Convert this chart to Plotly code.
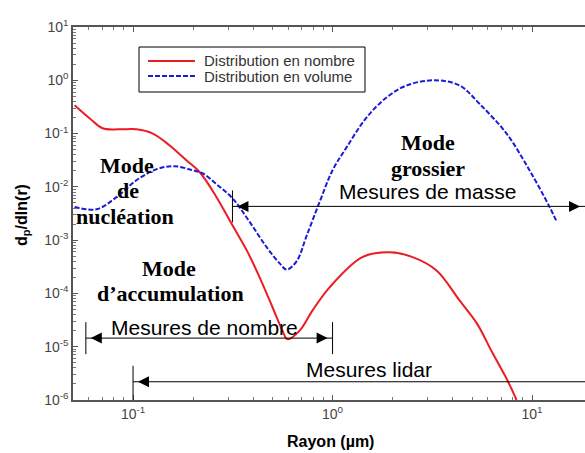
import numpy as np
import plotly.graph_objects as go

# ---- data ----
r_nombre = [0.0509, 0.0605, 0.0703, 0.0856, 0.104, 0.125, 0.152, 0.185, 0.216, 0.262,
            0.315, 0.371, 0.431, 0.50, 0.561, 0.595, 0.684, 0.794, 0.966, 1.41,
            1.93, 2.52, 3.32, 4.33, 5.27, 6.34, 7.54, 8.36]
d_nombre = [0.34, 0.194, 0.126, 0.12, 0.12, 0.101, 0.0605, 0.0316, 0.0188, 6.4e-3,
            1.9e-3, 6.5e-4, 2.0e-4, 5.5e-5, 2.0e-5, 1.38e-5, 2.0e-5, 4.8e-5, 1.3e-4, 4.8e-4,
            5.9e-4, 4.8e-4, 2.7e-4, 7.4e-5, 2.8e-5, 7.6e-6, 2.3e-6, 1.0e-6]

r_volume = [0.0509, 0.0656, 0.0826, 0.104, 0.131, 0.161, 0.199, 0.223, 0.262, 0.315,
            0.384, 0.467, 0.542, 0.588, 0.66, 0.741, 0.861, 1.0, 1.175, 1.48,
            1.87, 2.35, 3.25, 4.33, 5.46, 7.45, 9.71, 12.2, 13.3]
d_volume = [4.2e-3, 3.8e-3, 6.4e-3, 0.0133, 0.0214, 0.0244, 0.0205, 0.018, 0.0112, 6.1e-3,
            2.2e-3, 7.4e-4, 3.7e-4, 2.8e-4, 4.0e-4, 1.2e-3, 5.2e-3, 0.0205, 0.055, 0.2,
            0.48, 0.8, 1.0, 0.8, 0.36, 0.1, 0.0205, 4.3e-3, 2.2e-3]

series_names = ["Distribution en nombre", "Distribution en volume"]
series_colors = ["#ec1c24", "#1c1cd6"]
series_dash = ["solid", "5px,2px"]

mesure_labels = ["Mesures de nombre", "Mesures de masse", "Mesures lidar"]
mesure_start = [0.058, 0.315, 0.1]
mesure_end = [1.0, 18.43, 18.43]
mesure_level = [1.45e-5, 4.3e-3, 2.2e-6]
mesure_head_right = [True, True, False]

x_tickvals = [0.1, 1, 10]
x_ticktext = ["10<sup>-1</sup>", "10<sup>0</sup>", "10<sup>1</sup>"]
y_tickvals = [1e-6, 1e-5, 1e-4, 1e-3, 1e-2, 1e-1, 1, 10]
y_ticktext = ["10<sup>-6</sup>", "10<sup>-5</sup>", "10<sup>-4</sup>", "10<sup>-3</sup>",
              "10<sup>-2</sup>", "10<sup>-1</sup>", "10<sup>0</sup>", "10<sup>1</sup>"]

X_RANGE = [np.log10(0.05), 1.2654]
Y_RANGE = [-6, 1]

W, H = 585, 453
ML, MR, MT, MB = 73, 0, 27, 53
PW, PH = W - ML - MR, H - MT - MB
DEC_PX = PW / (X_RANGE[1] - X_RANGE[0])


def fx(r):
    return (np.log10(r) - X_RANGE[0]) / (X_RANGE[1] - X_RANGE[0])


def fy(v):
    return (np.log10(v) - Y_RANGE[0]) / (Y_RANGE[1] - Y_RANGE[0])


def pxx(p):
    return (p - ML) / PW


def pxy(p):
    return (MT + PH - p) / PH


fig = go.Figure()
fig.add_trace(go.Scatter(x=r_nombre, y=d_nombre, mode="lines", name=series_names[0], showlegend=False,
                         line=dict(color=series_colors[0], width=2, dash=series_dash[0],
                                   shape="spline", smoothing=1)))
fig.add_trace(go.Scatter(x=r_volume, y=d_volume, mode="lines", name=series_names[1], showlegend=False,
                         line=dict(color=series_colors[1], width=2, dash=series_dash[1],
                                   shape="spline", smoothing=1)))

# measurement range arrows
HEAD = 11
shift = 10 ** (HEAD * 0.45 / DEC_PX)
shapes = []
for s, e, lv, hr in zip(mesure_start, mesure_end, mesure_level, mesure_head_right):
    fig.add_trace(go.Scatter(x=[s, e], y=[lv, lv], mode="lines", showlegend=False, hoverinfo="skip",
                             line=dict(color="black", width=1), cliponaxis=False))
    hx, hs = [s * shift], ["arrow-left"]
    if hr:
        hx.append(e / shift)
        hs.append("arrow-right")
    fig.add_trace(go.Scatter(x=hx, y=[lv] * len(hx), mode="markers", showlegend=False, hoverinfo="skip",
                             marker=dict(symbol=hs, size=HEAD, color="black", line=dict(width=0)),
                             cliponaxis=False))
    dh = 16 / PH
    yy = fy(lv)
    shapes.append(dict(type="line", xref="paper", yref="paper", x0=fx(s), x1=fx(s),
                       y0=yy - dh, y1=yy + dh, line=dict(color="black", width=1)))
    if fx(e) < 0.999:
        shapes.append(dict(type="line", xref="paper", yref="paper", x0=fx(e), x1=fx(e),
                           y0=yy - dh, y1=yy + dh, line=dict(color="black", width=1)))
shapes[-1]["y0"] = 0

serif = "Liberation Serif, Times New Roman, serif"
sans = "Liberation Sans, Arial, sans-serif"

ann = []
mode_texts = [("Mode", 127, 165), ("de", 128, 191), ("nucléation", 125, 216),
              ("Mode", 169, 268), ("d’accumulation", 170, 293),
              ("Mode", 428, 142), ("grossier", 428, 168)]
for t, x, y in mode_texts:
    ann.append(dict(text="<b>%s</b>" % t, x=pxx(x), y=pxy(y), xref="paper", yref="paper",
                    xanchor="center", yanchor="middle", showarrow=False,
                    font=dict(family=serif, size=22, color="black")))

lab_pos = [(204, 327), (427, 192), (369, 369)]
for t, (x, y) in zip(mesure_labels, lab_pos):
    ann.append(dict(text=t, x=pxx(x), y=pxy(y), xref="paper", yref="paper",
                    xanchor="center", yanchor="middle", showarrow=False,
                    font=dict(family=sans, size=21, color="black")))

# legend box drawn by hand (to match the compact reference legend)
shapes.append(dict(type="rect", xref="paper", yref="paper", x0=pxx(139), x1=pxx(365),
                   y0=pxy(92), y1=pxy(47), line=dict(color="black", width=1), fillcolor="white"))
for i, (nm, col, ds) in enumerate(zip(series_names, series_colors, series_dash)):
    yl = 61 + 15 * i
    shapes.append(dict(type="line", xref="paper", yref="paper", x0=pxx(148), x1=pxx(195),
                       y0=pxy(yl), y1=pxy(yl), line=dict(color=col, width=2, dash=ds)))
    ann.append(dict(text=nm, x=pxx(202), y=pxy(yl), xref="paper", yref="paper",
                    xanchor="left", yanchor="middle", showarrow=False,
                    font=dict(family=sans, size=15, color="#333")))

ann.append(dict(text="<b>Rayon (µm)</b>", x=pxx(330), y=pxy(441), xref="paper", yref="paper",
                xanchor="center", yanchor="middle", showarrow=False,
                font=dict(family=sans, size=16, color="black")))
ann.append(dict(text="<b>d<sub>p</sub>/dln(r)</b>", x=pxx(22), y=pxy(215), xref="paper", yref="paper",
                xanchor="center", yanchor="middle", showarrow=False, textangle=-90,
                font=dict(family=sans, size=16, color="black")))

axis_common = dict(type="log", tickmode="array",
                   ticks="inside", ticklen=5, tickwidth=1, tickcolor="#555",
                   showline=True, linecolor="#555", linewidth=1.5,
                   showgrid=False, zeroline=False,
                   tickfont=dict(family=sans, size=14, color="#444"),
                   minor=dict(ticks="inside", ticklen=3, tickcolor="#777", dtick="D1", showgrid=False))

fig.update_layout(
    width=W, height=H,
    margin=dict(l=ML, r=MR, t=MT, b=MB),
    paper_bgcolor="white", plot_bgcolor="white",
    xaxis=dict(range=X_RANGE, mirror="ticks", tickvals=x_tickvals, ticktext=x_ticktext, **axis_common),
    yaxis=dict(range=Y_RANGE, mirror=False, tickvals=y_tickvals, ticktext=y_ticktext, **axis_common),
    annotations=ann, shapes=shapes,
    showlegend=False,
)

fig.write_html("out.html", config={"displayModeBar": False},
               post_script="document.body.style.margin='0';document.body.style.overflow='hidden';")
